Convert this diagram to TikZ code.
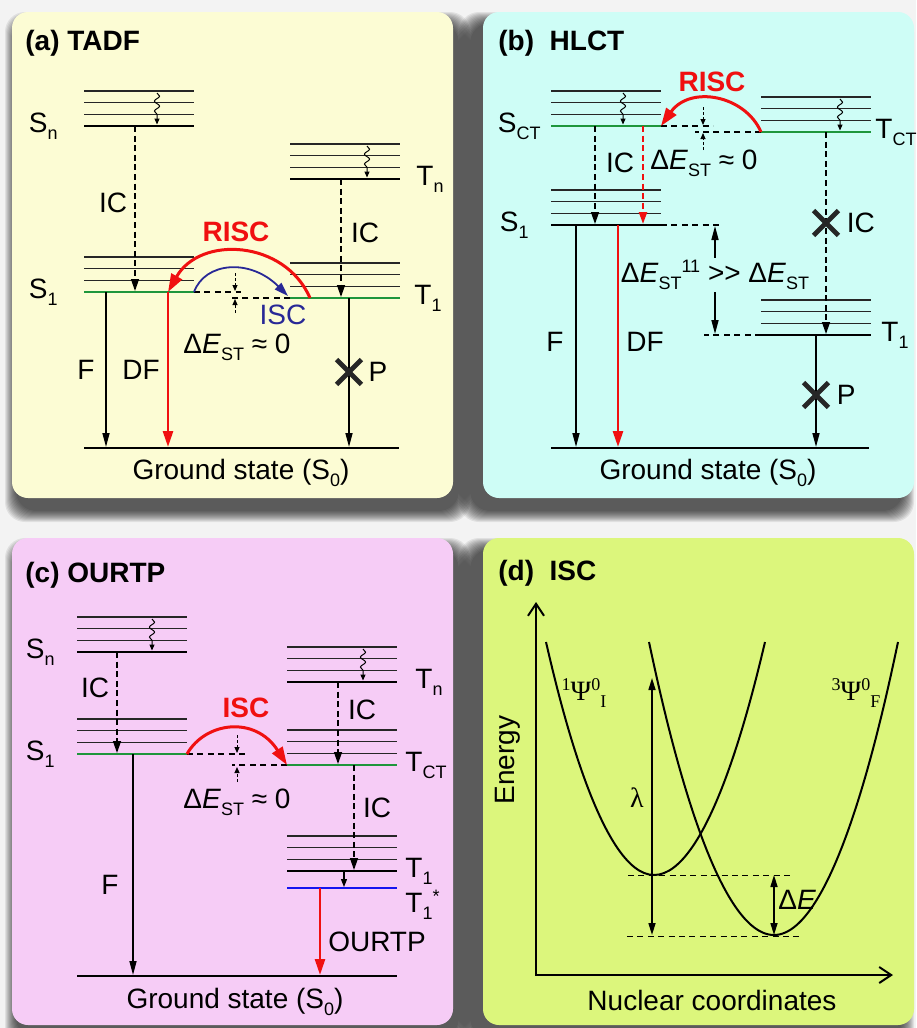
\documentclass[tikz,border=0pt]{standalone}
\usepackage{fontspec}
\setmainfont{Liberation Sans}
\newfontfamily\psifont{Liberation Serif}
\usepackage{tikz}
\usetikzlibrary{arrows.meta, positioning, calc, decorations.pathmorphing, shapes.misc}
\definecolor{bgc}{RGB}{243,243,243}
\definecolor{pan-a}{RGB}{252,252,212}
\definecolor{pan-b}{RGB}{206,253,246}
\definecolor{pan-c}{RGB}{246,204,246}
\definecolor{pan-d}{RGB}{220,246,124}
\definecolor{lvgreen}{RGB}{30,150,60}
\definecolor{rd}{RGB}{240,16,16}
\definecolor{iscblue}{RGB}{40,40,150}
\definecolor{tblue}{RGB}{20,20,240}
\newcommand{\lowtx}[1]{\raisebox{-3.5pt}{\fontsize{9}{9}\selectfont #1}}
\newcommand{\hightx}[1]{\raisebox{5pt}{\fontsize{9}{9}\selectfont #1}}
% one manifold: three thin sublevels above a thick level
\newcommand{\levelset}[4]{%
  \foreach \k in {1,2,3}
    \draw[sublevel] (#2,#3-\k*11.7) -- ++(110,0);
  \draw[level,#4] (#2,#3) coordinate (#1) -- ++(110,0) coordinate (#1-r);
}

\begin{document}
\begin{tikzpicture}[x=0.5pt, y=-0.5pt,
    sublevel/.style={line width=0.6pt, black!85},
    level/.style={line width=1.4pt},
    lab/.style={font=\fontsize{14}{16}\selectfont, inner sep=1pt},
    boldlab/.style={font=\fontsize{14}{16}\selectfont\bfseries, inner sep=1pt},
    ttl/.style={font=\fontsize{14}{16}\selectfont\bfseries, anchor=west, inner sep=0pt},
    ic/.style={dash pattern=on 3pt off 1.8pt, line width=0.7pt, -{Triangle[length=6pt,width=4pt]}},
    emit/.style={line width=0.8pt, -{Triangle[length=7pt,width=3.5pt]}},
    remit/.style={draw=rd, line width=1.3pt, -{Triangle[length=8pt,width=5pt]}},
    risc/.style={draw=rd, line width=1.5pt, -{Triangle[length=9pt,width=6pt]}},
    isc/.style={draw=iscblue, line width=0.9pt, -{Triangle[length=7pt,width=4.5pt]}},
    guide/.style={dash pattern=on 3pt off 2.2pt, line width=0.55pt},
    gap/.style={dash pattern=on 1.5pt off 1pt, line width=0.5pt, -{Triangle[length=3pt,width=2.5pt]}},
    wave/.style={line width=0.5pt, decorate,
                 decoration={snake, amplitude=1.3pt, segment length=5pt, post length=3pt},
                 -{Triangle[length=3pt,width=2.5pt]}},
    cross/.style={cross out, draw=black!85, line width=2.4pt, minimum size=10pt, inner sep=0pt},
    axis/.style={line width=1pt, {Straight Barb[length=6pt,width=8pt]}-{Straight Barb[length=6pt,width=8pt]}},
    curve/.style={line width=1pt},
    dbl/.style={line width=0.8pt, {Triangle[length=6pt,width=3.5pt]}-{Triangle[length=6pt,width=3.5pt]}},
    panel/.style={rounded corners=8pt}
  ]
  \useasboundingbox (0,0) rectangle (916,1028);
  \fill[bgc] (0,0) rectangle (916,1028);

  % shadows and panels
  \foreach \dx/\dy/\xa/\ya/\xb/\yb in {5/12/12/12/453/498, -12/12/483/12/914/498,
                                       5/12/12/538/453/1025, -12/12/483/538/914/1025}
    \foreach \s in {1,...,12}
      \fill[black, opacity=0.075, rounded corners=10pt]
        (\xa+\dx-\s,\ya+\dy-\s) rectangle (\xb+\dx+\s,\yb+\dy+\s);
  \fill[pan-a, panel] (12,12) rectangle (453,498);
  \fill[pan-b, panel] (483,12) rectangle (914,498);
  \fill[pan-c, panel] (12,538) rectangle (453,1025);
  \fill[pan-d, panel] (483,538) rectangle (914,1025);

  % (a) TADF
  \node[ttl] (aTitle) at (25,43) {(a) TADF};
  \levelset{aSn}{84}{126}{black}
  \levelset{aTn}{290}{179}{black}
  \levelset{aS1}{84}{292}{lvgreen}
  \levelset{aT1}{290}{298}{lvgreen}
  \draw[level] (84,448) coordinate (aG) -- (399,448);
  \draw[wave] ($(aSn)+(73,-33)$) -- ($(aSn)+(73,-1.5)$);
  \draw[wave] ($(aTn)+(77,-33)$) -- ($(aTn)+(77,-1.5)$);
  \draw[ic] ($(aSn)+(51,0)$) -- ($(aS1)+(51,-1)$);
  \draw[ic] ($(aTn)+(51,0)$) -- ($(aT1)+(51,-1)$);
  \draw[emit] ($(aS1)+(22,0)$) -- ($(aG)+(22,-1)$);
  \draw[remit] ($(aS1)+(84,0)$) -- ($(aG)+(84,-1)$);
  \draw[emit] ($(aT1)+(59,0)$) -- ($(aG)+(265,-1)$);
  \draw[guide] (aS1-r) -- ++(47,0);
  \draw[guide] (aT1) -- ++(-60,0);
  \draw[gap] ($(aS1-r)+(41,-19)$) -- ($(aS1-r)+(41,-1)$);
  \draw[gap] ($(aS1-r)+(41,21)$) -- ($(aS1-r)+(41,7)$);
  \draw[isc] (aS1-r) .. controls ($(aS1-r)+(11,-30)$) and ($(aS1-r)+(56,-34)$) .. ($(aT1)+(-2,-2)$);
  \draw[risc] ($(aT1)+(20,0)$) .. controls ($(aT1)+(-5,-58)$) and ($(aS1)+(116,-57)$) .. ($(aS1)+(84,0)$);
  \node[lab, left=12pt of aSn] (aSnL) {S\lowtx{n}};
  \node[lab, right=7pt of aTn-r] (aTnL) {T\lowtx{n}};
  \node[lab, left=12pt of aS1] (aS1L) {S\lowtx{1}};
  \node[lab, right=6pt of aT1-r] (aT1L) {T\lowtx{1}};
  \node[lab] (aIC1) at (113,203) {IC};
  \node[lab] (aIC2) at (365,233) {IC};
  \node[boldlab, text=rd] (aRisc) at (236,232) {RISC};
  \node[lab, text=iscblue] (aIsc) at (283,315) {ISC};
  \node[lab] (aDE) at (237,347) {Δ\textit{E}\lowtx{ST} ≈ 0};
  \node[lab] (aF) at (86,370) {F};
  \node[lab] (aDF) at (141,370) {DF};
  \node[cross] (aX) at (349,372) {};
  \node[lab] (aP) at (378,372) {P};
  \node[lab] (aGL) at (241,473) {Ground state (S\lowtx{0})};

  % (b) HLCT
  \node[ttl] (bTitle) at (498,43) {(b)\ \ HLCT};
  \levelset{bSct}{551}{126}{lvgreen}
  \levelset{bTct}{761}{132}{lvgreen}
  \levelset{bS1}{551}{225}{black}
  \levelset{bT1}{761}{335}{black}
  \draw[level] (551,448) coordinate (bG) -- (869,448);
  \draw[wave] ($(bSct)+(72,-33)$) -- ($(bSct)+(72,-1.5)$);
  \draw[wave] ($(bTct)+(79,-33)$) -- ($(bTct)+(79,-1.5)$);
  \draw[ic] ($(bSct)+(44,0)$) -- ($(bS1)+(44,-1)$);
  \draw[ic, draw=rd, line width=1.1pt] ($(bSct)+(92,0)$) -- ($(bS1)+(92,-1)$);
  \draw[ic] ($(bTct)+(65,0)$) -- ($(bT1)+(65,-1)$);
  \draw[emit] ($(bS1)+(25,0)$) -- ($(bG)+(25,-1)$);
  \draw[remit] ($(bS1)+(67,0)$) -- ($(bG)+(67,-1)$);
  \draw[emit] ($(bT1)+(55,0)$) -- ($(bG)+(265,-1)$);
  \draw[guide] (bSct-r) -- ++(52,0);
  \draw[guide] (bTct) -- ++(-66,0);
  \draw[gap] ($(bSct-r)+(42,-19)$) -- ($(bSct-r)+(42,-1)$);
  \draw[gap] ($(bSct-r)+(42,24)$) -- ($(bSct-r)+(42,7)$);
  \draw[risc] (bTct) .. controls ($(bTct)+(-16,-37)$) and ($(bSct-r)+(29,-41)$) .. (bSct-r);
  \draw[guide] (bS1-r) -- ++(62,0);
  \draw[guide] (bT1) -- ++(-57,0);
  \node[lab, fill=pan-b] (bDE2) at (715,275) {Δ\textit{E}\lowtx{ST}\hightx{11} >{}> Δ\textit{E}\lowtx{ST}};
  \draw[emit] (bDE2.north) -- ($(bS1-r)+(54,1)$);
  \draw[emit] (bDE2.south) -- ($(bT1)+(-46,-1)$);
  \node[lab, left=4pt of bSct] (bSctL) {S\lowtx{CT}};
  \node[lab, inner sep=0pt, right=2pt of bTct-r] (bTctL) {T\lowtx{CT}};
  \node[lab, left=10pt of bS1] (bS1L) {S\lowtx{1}};
  \node[lab, right=4pt of bT1-r] (bT1L) {T\lowtx{1}};
  \node[boldlab, text=rd] (bRisc) at (712,82) {RISC};
  \node[lab] (bIC1) at (620,163) {IC};
  \node[lab] (bDE) at (704,163) {Δ\textit{E}\lowtx{ST} ≈ 0};
  \node[cross] (bX1) at ($(bTct)+(65,91)$) {};
  \node[lab, right=3pt of bX1] (bIC2) {IC};
  \node[cross] (bX2) at ($(bT1)+(55,60)$) {};
  \node[lab, right=3pt of bX2] (bP) {P};
  \node[lab] (bF) at (555,342) {F};
  \node[lab] (bDF) at (645,342) {DF};
  \node[lab] (bGL) at (708,473) {Ground state (S\lowtx{0})};

  % (c) OURTP
  \node[ttl] (cTitle) at (25,575) {(c) OURTP};
  \levelset{cSn}{77}{652}{black}
  \levelset{cTn}{287}{682}{black}
  \levelset{cS1}{77}{754}{lvgreen}
  \levelset{cTct}{287}{765}{lvgreen}
  \levelset{cT1}{287}{871}{black}
  \draw[level, draw=tblue] (287,888) coordinate (cT1s) -- ++(110,0) coordinate (cT1s-r);
  \draw[level] (77,976) coordinate (cG) -- (397,976);
  \draw[wave] ($(cSn)+(75,-33)$) -- ($(cSn)+(75,-1.5)$);
  \draw[wave] ($(cTn)+(76,-33)$) -- ($(cTn)+(76,-1.5)$);
  \draw[ic] ($(cSn)+(40,0)$) -- ($(cS1)+(40,-1)$);
  \draw[ic] ($(cTn)+(51,0)$) -- ($(cTct)+(51,-1)$);
  \draw[ic] ($(cTct)+(67,0)$) -- ($(cT1)+(67,-1)$);
  \draw[line width=0.6pt, -{Triangle[length=4pt,width=3pt]}] ($(cT1)+(57,0)$) -- ($(cT1s)+(57,-1)$);
  \draw[emit] ($(cS1)+(56,0)$) -- ($(cG)+(56,-1)$);
  \draw[remit] ($(cT1s)+(33,0)$) -- ($(cG)+(243,-1)$);
  \draw[guide] (cS1-r) -- ++(58,0);
  \draw[guide] (cTct) -- ++(-55,0);
  \draw[gap] ($(cS1-r)+(50,-19)$) -- ($(cS1-r)+(50,-1)$);
  \draw[gap] ($(cS1-r)+(50,28)$) -- ($(cS1-r)+(50,13)$);
  \draw[risc] (cS1-r) .. controls ($(cS1-r)+(18,-32)$) and ($(cTct)+(-32,-50)$) .. (cTct);
  \node[lab, left=10pt of cSn] (cSnL) {S\lowtx{n}};
  \node[lab, right=8pt of cTn-r] (cTnL) {T\lowtx{n}};
  \node[lab, left=10pt of cS1] (cS1L) {S\lowtx{1}};
  \node[lab, right=3pt of cTct-r] (cTctL) {T\lowtx{CT}};
  \node[lab, right=3pt of cT1-r] (cT1L) {T\lowtx{1}};
  \node[lab, anchor=west] (cT1sL) at ($(cT1s-r)+(6,17)$) {T\lowtx{1}\hightx{*}};
  \node[lab] (cIC1) at (95,688) {IC};
  \node[lab] (cIC2) at (362,710) {IC};
  \node[lab] (cIC3) at (377,808) {IC};
  \node[boldlab, text=rd] (cIsc) at (246,708) {ISC};
  \node[lab] (cDE) at (237,802) {Δ\textit{E}\lowtx{ST} ≈ 0};
  \node[lab] (cF) at (110,885) {F};
  \node[lab] (cOur) at (377,942) {OURTP};
  \node[lab] (cGL) at (235,1002) {Ground state (S\lowtx{0})};

  % (d) ISC
  \node[ttl] (dTitle) at (498,573) {(d)\ \ ISC};
  \coordinate (dO) at (536,975);
  \coordinate (dY) at (536,602);
  \coordinate (dX) at (893,975);
  \coordinate (dMinI) at (654,875);
  \coordinate (dMinF) at (774,935);
  \coordinate (dLtop) at (652,678);
  \draw[axis] (dY) -- (dO) -- (dX);
  \draw[curve] (546,642) parabola bend (dMinI) (765,642);
  \draw[curve] (649,642) parabola bend (dMinF) (898,642);
  \draw[guide, line width=0.5pt] ($(dMinI)+(-26,0)$) -- ($(dMinI)+(139,0)$);
  \draw[guide, line width=0.5pt] ($(dMinF)+(-147,1)$) -- ($(dMinF)+(29,1)$);
  \draw[dbl] (dLtop) -- (dLtop |- dMinF);
  \draw[dbl] (dMinI -| dMinF) -- (dMinF);
  \node[lab, rotate=90] (dEn) at (508,760) {Energy};
  \node[lab] (dNuc) at (712,1000) {Nuclear coordinates};
  \node[lab, font=\psifont\fontsize{14}{16}\selectfont] (dPsiI) at (584,693) {\hightx{1}Ψ\hightx{0}\lowtx{I}};
  \node[lab, font=\psifont\fontsize{14}{16}\selectfont] (dPsiF) at (856,693) {\hightx{3}Ψ\hightx{0}\lowtx{F}};
  \node[lab, font=\psifont\fontsize{14}{16}\selectfont] (dLam) at (637,798) {λ};
  \node[lab, anchor=west] (dDE) at (776,900) {Δ\textit{E}};
\end{tikzpicture}
\end{document}
